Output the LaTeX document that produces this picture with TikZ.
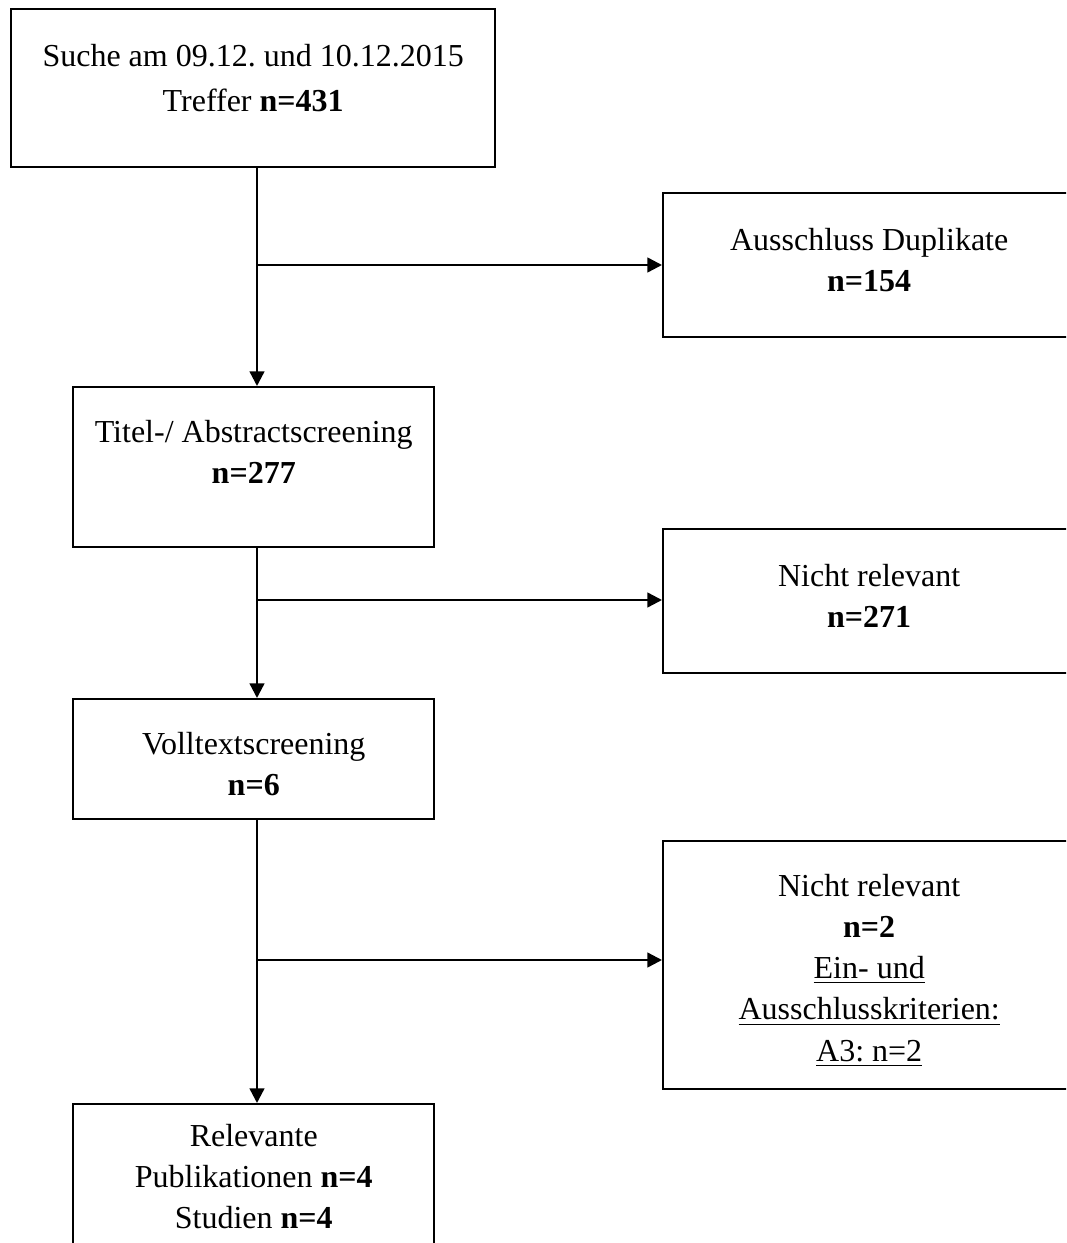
\documentclass[tikz,border=0pt]{standalone}
\usepackage{fontspec}
\setmainfont{Liberation Serif}
\usetikzlibrary{arrows.meta}
\frenchspacing

\tikzset{
  box/.style={draw=black, line width=0.9pt, inner sep=0pt, anchor=north west,
    font=\fontsize{12}{15.4}\selectfont},
  flow/.style={line width=0.9pt, -{Triangle[length=5.5pt,width=5.5pt]}},
}
% width, height, top gap, text
\newcommand{\boxtext}[4]{\parbox[c][#2][t]{#1}{\centering\vspace*{#3}#4}}

\begin{document}
\begin{tikzpicture}[x=0.375pt, y=-0.375pt]
  \clip (0,0) rectangle (1066,1243);
  % main column
  \node[box] (search) at (10,8) {\boxtext{181.5pt}{59.25pt}{13pt}{\fontsize{12}{17}\selectfont Suche am 09.12. und 10.12.2015\\ Treffer \textbf{n=431}}};
  \node[box] (title) at (72,386) {\boxtext{135.4pt}{60pt}{12.5pt}{Titel-/ Abstractscreening\\ \textbf{n=277}}};
  \node[box] (full) at (72,698) {\boxtext{135.4pt}{45pt}{12.5pt}{Volltextscreening\\ \textbf{n=6}}};
  \node[box] (result) at (72,1103) {\boxtext{135.4pt}{63.75pt}{7.5pt}{Relevante\\ Publikationen \textbf{n=4}\\ Studien \textbf{n=4}}};
  % exclusions
  \node[box] (dup) at (662,192) {\boxtext{154.5pt}{54pt}{13pt}{Ausschluss Duplikate\\ \textbf{n=154}}};
  \node[box] (irr1) at (662,528) {\boxtext{154.5pt}{54pt}{13pt}{Nicht relevant\\ \textbf{n=271}}};
  \node[box] (irr2) at (662,840) {\boxtext{154.5pt}{93pt}{12.5pt}{Nicht relevant\\ \textbf{n=2}\\ \underline{Ein- und}\\ \underline{Ausschlusskriterien:}\\ \underline{A3: n=2}}};

  \coordinate (j1) at (257,265);
  \coordinate (j2) at (257,600);
  \coordinate (j3) at (257,960);

  \draw[flow] (search.south -| j1) -- (title.north -| j1);
  \draw[flow] (title.south -| j2) -- (full.north -| j2);
  \draw[flow] (full.south -| j3) -- (result.north -| j3);
  \draw[flow] (j1) -- (j1 -| dup.west);
  \draw[flow] (j2) -- (j2 -| irr1.west);
  \draw[flow] (j3) -- (j3 -| irr2.west);
\end{tikzpicture}
\end{document}
